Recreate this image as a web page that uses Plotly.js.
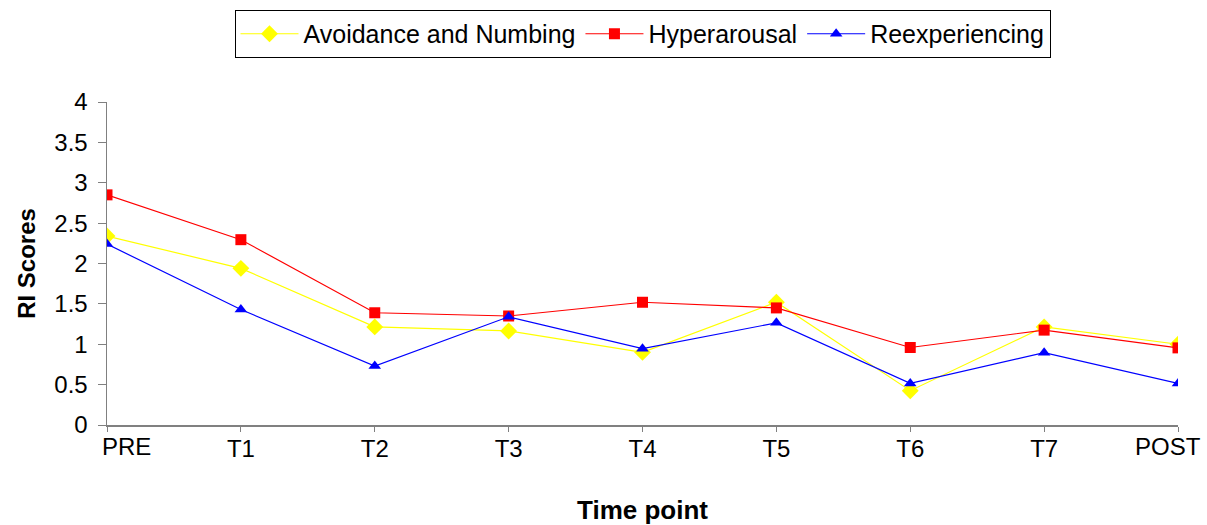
<!DOCTYPE html>
<html><head><meta charset="utf-8">
<script src="https://cdn.plot.ly/plotly-3.0.1.min.js"></script>
<style>html,body{margin:0;padding:0;background:#fff}#chart{width:1207px;height:525px}</style>
</head><body><div id="chart"></div>
<script>
const timePoints = ["PRE","T1","T2","T3","T4","T5","T6","T7","POST"];
const avoidance = [2.34, 1.94, 1.215, 1.165, 0.90, 1.52, 0.425, 1.215, 1.00];
const hyperarousal = [2.85, 2.295, 1.39, 1.35, 1.52, 1.45, 0.96, 1.175, 0.955];
const reexperiencing = [2.24, 1.43, 0.73, 1.34, 0.945, 1.265, 0.515, 0.895, 0.515];

const font = "Liberation Sans, Arial, sans-serif";
const last = timePoints.length - 1;
// inner tick labels drawn by the axis; the two end labels are nudged inward (as in the original) via annotations
const tickText = timePoints.map((t, i) => (i === 0 || i === last) ? "" : t);

function tr(name, y, color, symbol, size){
  return {x: timePoints, y: y, name: name, type: "scatter", mode: "lines+markers",
    line: {color: color, width: 1.2}, marker: {color: color, symbol: symbol, size: size}};
}
const data = [
  tr("Avoidance and Numbing", avoidance, "#FFFF00", "diamond", 13),
  tr("Hyperarousal", hyperarousal, "#FF0000", "square", 11),
  tr("Reexperiencing", reexperiencing, "#0000FF", "triangle-up", 11)
];
function endLabel(cat, shift){
  return {x: cat, xref: "x", y: 0, yref: "paper", yanchor: "top", xanchor: "center",
    yshift: -6, xshift: shift, text: cat, showarrow: false, font: {size: 24, color: "#000"}};
}
const layout = {
  width: 1207, height: 525,
  margin: {l: 107, r: 29, t: 102, b: 100},
  paper_bgcolor: "#fff", plot_bgcolor: "#fff",
  font: {family: font, size: 24, color: "#000"},
  showlegend: true,
  legend: {orientation: "h", x: 0.5, xanchor: "center", xref: "paper",
    y: 0.981, yanchor: "top", yref: "container",
    bordercolor: "#000", borderwidth: 1, font: {size: 25}, bgcolor: "#fff",
    itemwidth: 58, tracegroupgap: 0},
  xaxis: {type: "category", range: [0, 8], showgrid: false, zeroline: false,
    tickmode: "array", tickvals: timePoints, ticktext: tickText,
    showline: true, linecolor: "#808080", linewidth: 1.5,
    ticks: "outside", ticklen: 5, tickcolor: "#808080",
    ticklabelstandoff: -3,
    tickfont: {size: 24},
    title: {text: "<b>Time point</b>", font: {size: 26}, standoff: 42}},
  yaxis: {range: [0, 4], dtick: 0.5, showgrid: false, zeroline: false,
    showline: true, linecolor: "#808080", linewidth: 1.5,
    ticks: "outside", ticklen: 8, tickcolor: "#808080",
    ticklabelstandoff: 5,
    tickfont: {size: 24},
    title: {text: "<b>RI Scores</b>", font: {size: 24}, standoff: 12}},
  annotations: [endLabel(timePoints[0], 19), endLabel(timePoints[last], -10)]
};
Plotly.newPlot("chart", data, layout, {displayModeBar: false, staticPlot: true});
</script></body></html>
